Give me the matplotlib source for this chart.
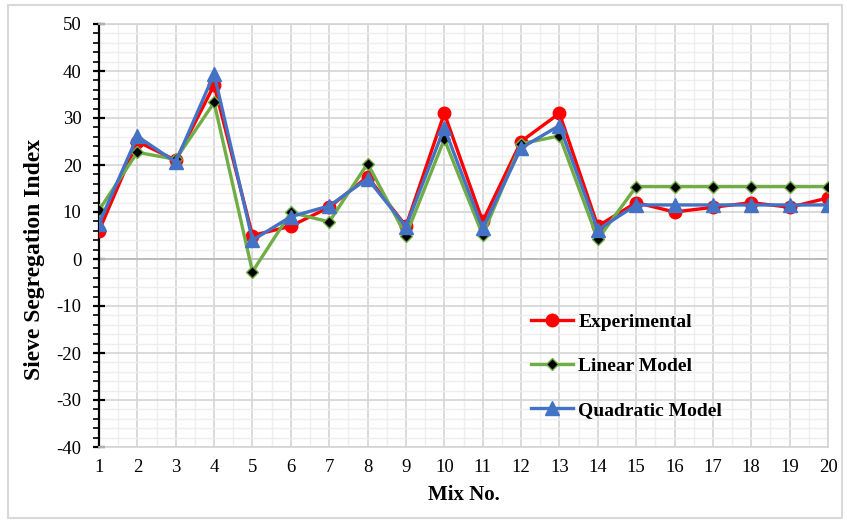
import matplotlib.pyplot as plt
from matplotlib.ticker import MultipleLocator

plt.rcParams['font.family'] = ['Liberation Serif', 'DejaVu Serif']
plt.rcParams['axes.unicode_minus'] = False

mix_no = list(range(1, 21))
experimental = [6, 25, 21, 37, 5, 7, 11, 17.5, 7, 31,
                8, 25, 31, 7, 12, 10, 11, 12, 11, 13]
linear_model = [10.4, 22.7, 21.2, 33.3, -2.7, 9.9, 7.9, 20.3, 5.0, 25.5,
                5.1, 24.5, 26.2, 4.2, 15.4, 15.4, 15.4, 15.4, 15.4, 15.4]
quadratic_model = [7.5, 26.1, 20.6, 39.4, 4.0, 9.0, 11.3, 17.1, 6.9, 27.9,
                   6.5, 23.6, 28.4, 6.2, 11.5, 11.5, 11.5, 11.5, 11.5, 11.5]

fig = plt.figure(figsize=(8.47, 5.21), dpi=100)
ax = fig.add_axes([99 / 847, 1 - 447 / 521, 729 / 847, 423 / 521])

# grid: majors every mix / every 10, minors halfway / every 2
ax.set_xlim(1, 20)
ax.set_ylim(-40, 50)
ax.xaxis.set_major_locator(MultipleLocator(1))
ax.xaxis.set_minor_locator(MultipleLocator(0.5))
ax.yaxis.set_major_locator(MultipleLocator(10))
ax.yaxis.set_minor_locator(MultipleLocator(2))
ax.grid(which='major', color='#d4d4d4', lw=1.2, zorder=0)
ax.grid(which='minor', color='#eeeeee', lw=1.0, zorder=0)
ax.set_axisbelow(True)
ax.axhline(0, color='#bdbdbd', lw=1.4, zorder=1)

ax.plot(mix_no, experimental, color='#ff0000', lw=2.4, marker='o', ms=9,
        label='Experimental', zorder=3)
ax.plot(mix_no, linear_model, color='#70ad47', lw=2.4, marker='D', ms=6,
        mfc='black', mec='#70ad47', mew=1.0, label='Linear Model', zorder=4)
ax.plot(mix_no, quadratic_model, color='#4472c4', lw=2.4, marker='^', ms=10,
        label='Quadratic Model', zorder=5)

for side in ['top', 'right', 'bottom']:
    ax.spines[side].set_color('#d4d4d4')
    ax.spines[side].set_linewidth(1.2)
ax.spines['left'].set_color('black')
ax.spines['left'].set_linewidth(1.6)

ax.tick_params(axis='x', which='both', length=0, labelsize=13.5, pad=9)
ax.tick_params(axis='y', which='major', direction='inout', length=9,
               width=1.6, labelsize=13.5, pad=8)
ax.tick_params(axis='y', which='minor', direction='out', length=4, width=1.2)

ax.set_xlabel('Mix No.', fontsize=15, fontweight='bold', labelpad=6)
ax.set_ylabel('Sieve Segregation Index', fontsize=17, fontweight='bold')
ax.yaxis.set_label_coords(-0.074, 40 / 90)

leg = ax.legend(loc='center left', bbox_to_anchor=(0.568, 0.191), frameon=False,
                prop={'weight': 'bold', 'size': 14}, labelspacing=1.37,
                handlelength=2.2, handletextpad=0.25)

# light border around the whole chart area
fig.patches.append(plt.Rectangle((8 / 847, 0.005), 0.985, 0.985,
                                 transform=fig.transFigure, fill=False,
                                 edgecolor='#d9d9d9', lw=1.5))

fig.savefig('out.png', dpi=100)
